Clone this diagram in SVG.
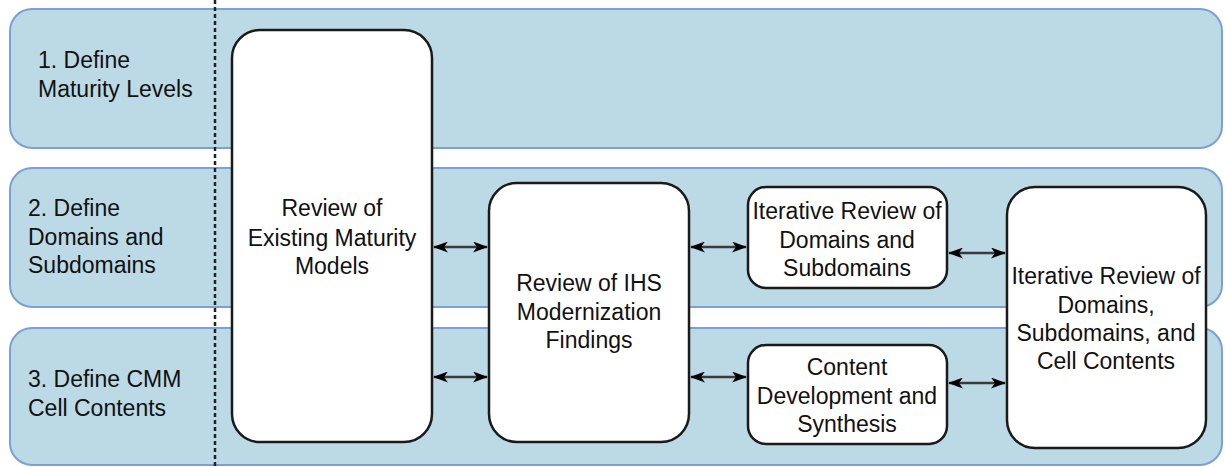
<svg xmlns="http://www.w3.org/2000/svg" width="1225" height="467" viewBox="0 0 1225 467">
<style>
.lane{fill:#bcd9e6;stroke:#7aa0d4;stroke-width:2}
.box{fill:#fff;stroke:#1a1a1a;stroke-width:2.5}
.t{font-family:"Liberation Sans",Arial,sans-serif;font-size:23px;fill:#111}
.bt{font-family:"Liberation Sans",Arial,sans-serif;font-size:23px;fill:#111;text-anchor:middle}
.c{stroke:#3a3a3a;stroke-width:2.5;fill:none;marker-start:url(#ah);marker-end:url(#ah)}
</style>
<defs>
<marker id="ah" viewBox="0 0 15 11" refX="14" refY="5.5" markerWidth="15" markerHeight="11" markerUnits="userSpaceOnUse" orient="auto-start-reverse">
<path d="M0,0 L15,5.5 L0,11 L4,5.5 z" fill="#000"/>
</marker>
</defs>
<rect width="1225" height="467" fill="#fff"/>
<g id="lane1"><rect class="lane" x="10" y="9" width="1212" height="139" rx="22"/>
<text class="t" x="38" y="68">1. Define</text><text class="t" x="38" y="97">Maturity Levels</text></g>
<g id="lane2"><rect class="lane" x="10" y="168" width="1212" height="139" rx="22"/>
<text class="t" x="28" y="216">2. Define</text><text class="t" x="28" y="245">Domains and</text><text class="t" x="28" y="273">Subdomains</text></g>
<g id="lane3"><rect class="lane" x="10" y="328" width="1212" height="137" rx="22"/>
<text class="t" x="28" y="387">3. Define CMM</text><text class="t" x="28" y="416">Cell Contents</text></g>
<line x1="215" y1="0" x2="215" y2="467" stroke="#222" stroke-width="2.5" stroke-dasharray="4,3"/>
<g id="nodeA"><rect class="box" x="232" y="30" width="200" height="412" rx="28"/>
<text class="bt" x="332" y="216">Review of</text><text class="bt" x="332" y="246">Existing Maturity</text><text class="bt" x="332" y="274">Models</text></g>
<g id="nodeB"><rect class="box" x="489" y="183" width="200" height="259" rx="28"/>
<text class="bt" x="589" y="291">Review of IHS</text><text class="bt" x="589" y="320">Modernization</text><text class="bt" x="589" y="348">Findings</text></g>
<g id="nodeC"><rect class="box" x="748" y="187" width="199" height="101" rx="18"/>
<text class="bt" x="847" y="219">Iterative Review of</text><text class="bt" x="847" y="248">Domains and</text><text class="bt" x="847" y="276">Subdomains</text></g>
<g id="nodeD"><rect class="box" x="748" y="345" width="199" height="99" rx="18"/>
<text class="bt" x="847" y="375">Content</text><text class="bt" x="847" y="404">Development and</text><text class="bt" x="847" y="432">Synthesis</text></g>
<g id="nodeE"><rect class="box" x="1007" y="187" width="199" height="261" rx="28"/>
<text class="bt" x="1106" y="284">Iterative Review of</text><text class="bt" x="1106" y="313">Domains,</text><text class="bt" x="1106" y="341">Subdomains, and</text><text class="bt" x="1106" y="369">Cell Contents</text></g>
<g id="connectors">
<line class="c" x1="434" y1="247" x2="487" y2="247"/>
<line class="c" x1="434" y1="377" x2="487" y2="377"/>
<line class="c" x1="691" y1="247" x2="746" y2="247"/>
<line class="c" x1="691" y1="377" x2="746" y2="377"/>
<line class="c" x1="949" y1="253" x2="1005" y2="253"/>
<line class="c" x1="949" y1="383" x2="1005" y2="383"/>
</g>
</svg>
